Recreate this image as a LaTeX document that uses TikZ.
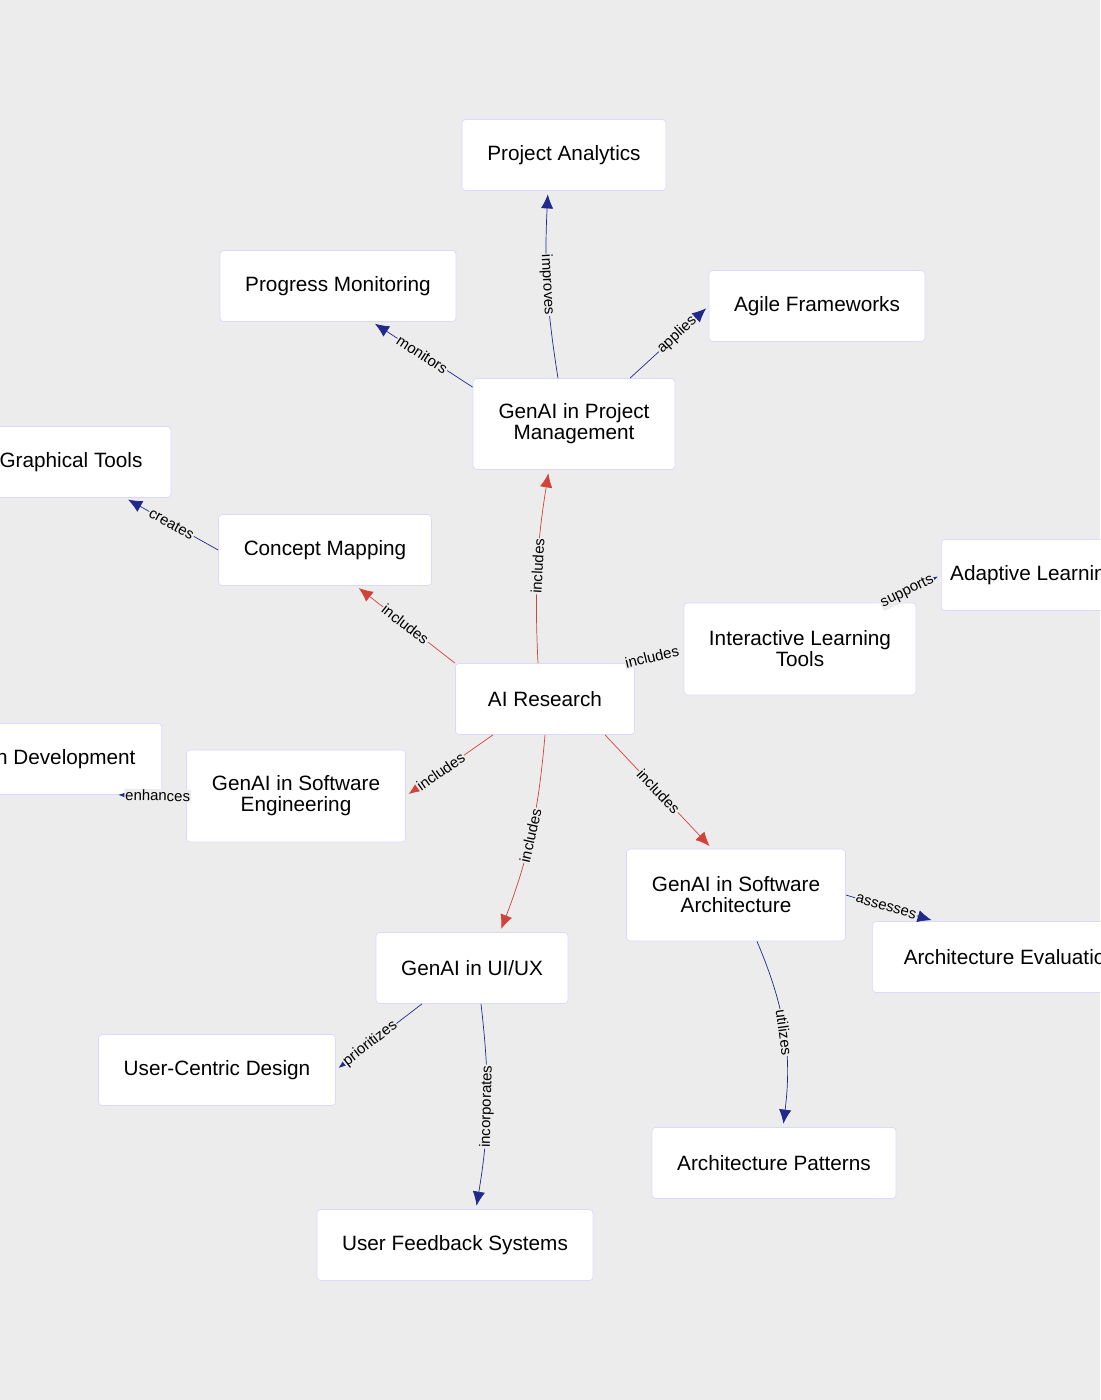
\documentclass[tikz,border=0pt]{standalone}
\usepackage{fontspec}
\setmainfont{Liberation Sans}
\usetikzlibrary{arrows.meta}
\definecolor{bg}{HTML}{ECECEC}
\definecolor{edgered}{HTML}{D0433A}
\definecolor{edgeblue}{HTML}{1F2A8C}
\tikzset{
	box/.style = {draw=white!85!blue, fill=white, rounded corners=2pt, align=center,
		font=\fontsize{11.8}{12}\selectfont, inner sep=0pt},
	inc/.style = {draw=edgered, thin, -{Latex[length=8pt,width=7pt]}, shorten >=2pt},
	rel/.style = {draw=edgeblue, thin, -{Latex[length=8pt,width=7pt]}, shorten >=2pt},
	lab/.style = {font=\fontsize{8.5}{8.5}\selectfont, fill=bg, inner sep=0.5pt, sloped}
}
\begin{document}
\begin{tikzpicture}[x=0.02cm, y=-0.02cm]
\fill[bg] (0,0) rectangle (1100,1400);
\clip (0,0) rectangle (1100,1400);
% nodes
\node[box, minimum width=204*0.02cm, minimum height=71*0.02cm] (analytics) at (564,155) {Project Analytics};
\node[box, minimum width=236*0.02cm, minimum height=71*0.02cm] (progress) at (338,286) {Progress Monitoring};
\node[box, minimum width=216*0.02cm, minimum height=71*0.02cm] (agile) at (817,306) {Agile Frameworks};
\node[box, minimum width=202*0.02cm, minimum height=91*0.02cm] (pm) at (574,424) {GenAI in Project\\Management};
\node[box, minimum width=200*0.02cm, minimum height=71*0.02cm] (graphical) at (71,462) {Graphical Tools};
\node[box, minimum width=213*0.02cm, minimum height=71*0.02cm] (concept) at (325,550) {Concept Mapping};
\node[box, minimum width=270*0.02cm, minimum height=71*0.02cm, anchor=west] (adaptive) at (941,575) {Adaptive Learning Systems};
\node[box, minimum width=232*0.02cm, minimum height=92*0.02cm] (interactive) at (800,649) {Interactive Learning\\Tools};
\node[box, minimum width=179*0.02cm, minimum height=71*0.02cm] (ai) at (545,699) {AI Research};
\node[box, minimum width=255*0.02cm, minimum height=71*0.02cm, anchor=east] (development) at (162,759) {Solution Development};
\node[box, minimum width=219*0.02cm, minimum height=92*0.02cm] (se) at (296,796) {GenAI in Software\\Engineering};
\node[box, minimum width=219*0.02cm, minimum height=92*0.02cm] (sa) at (736,895) {GenAI in Software\\Architecture};
\node[box, minimum width=276*0.02cm, minimum height=71*0.02cm, anchor=west] (evaluation) at (872,957) {Architecture Evaluation};
\node[box, minimum width=192*0.02cm, minimum height=71*0.02cm] (uiux) at (472,968) {GenAI in UI/UX};
\node[box, minimum width=237*0.02cm, minimum height=71*0.02cm] (centric) at (217,1070) {User-Centric Design};
\node[box, minimum width=244*0.02cm, minimum height=71*0.02cm] (patterns) at (774,1163) {Architecture Patterns};
\node[box, minimum width=276*0.02cm, minimum height=71*0.02cm] (feedback) at (455,1245) {User Feedback Systems};
% includes
\draw[inc] (ai.north -| 538,0) to[bend left=6] node[lab] {includes} (pm.south -| 549,0);
\draw[inc] (ai.north -| 455,0) -- node[lab] {includes} (concept.south -| 356,0);
\draw[inc] (ai.north -| 626,0) -- node[lab, pos=0.45] {includes} (interactive.west);
\draw[inc] (ai.south -| 493,0) -- node[lab, pos=0.6] {includes} (se.east);
\draw[inc] (ai.south -| 605,0) -- node[lab] {includes} (sa.north -| 712,0);
\draw[inc] (ai.south) to[bend left=8] node[lab] {includes} (uiux.north -| 500,0);
% relations
\draw[rel] (pm.north -| 558,0) to[bend left=6] node[lab] {improves} (analytics.south -| 548,0);
\draw[rel] (pm.160) -- node[lab] {monitors} (progress.south -| 372,0);
\draw[rel] (pm.north -| 630,0) -- node[lab, pos=0.6] {applies} (agile.west);
\draw[rel] (concept.west) -- node[lab] {creates} (graphical.south -| 125,0);
\draw[rel] (interactive.north -| 885,0) -- node[lab, pos=0.4] {supports} (adaptive.west);
\draw[rel] (se.west) -- node[lab, pos=0.4] {enhances} (development.south -| 115,0);
\draw[rel] (sa.east) -- node[lab, pos=0.45] {assesses} (evaluation.north -| 935,0);
\draw[rel] (sa.south -| 757,0) to[bend left=15] node[lab] {utilizes} (patterns.north -| 783,0);
\draw[rel] (uiux.south -| 422,0) -- node[lab, pos=0.6] {prioritizes} (centric.east);
\draw[rel] (uiux.south -| 481,0) to[bend left=8] node[lab] {incorporates} (feedback.north -| 476,0);
\end{tikzpicture}
\end{document}
